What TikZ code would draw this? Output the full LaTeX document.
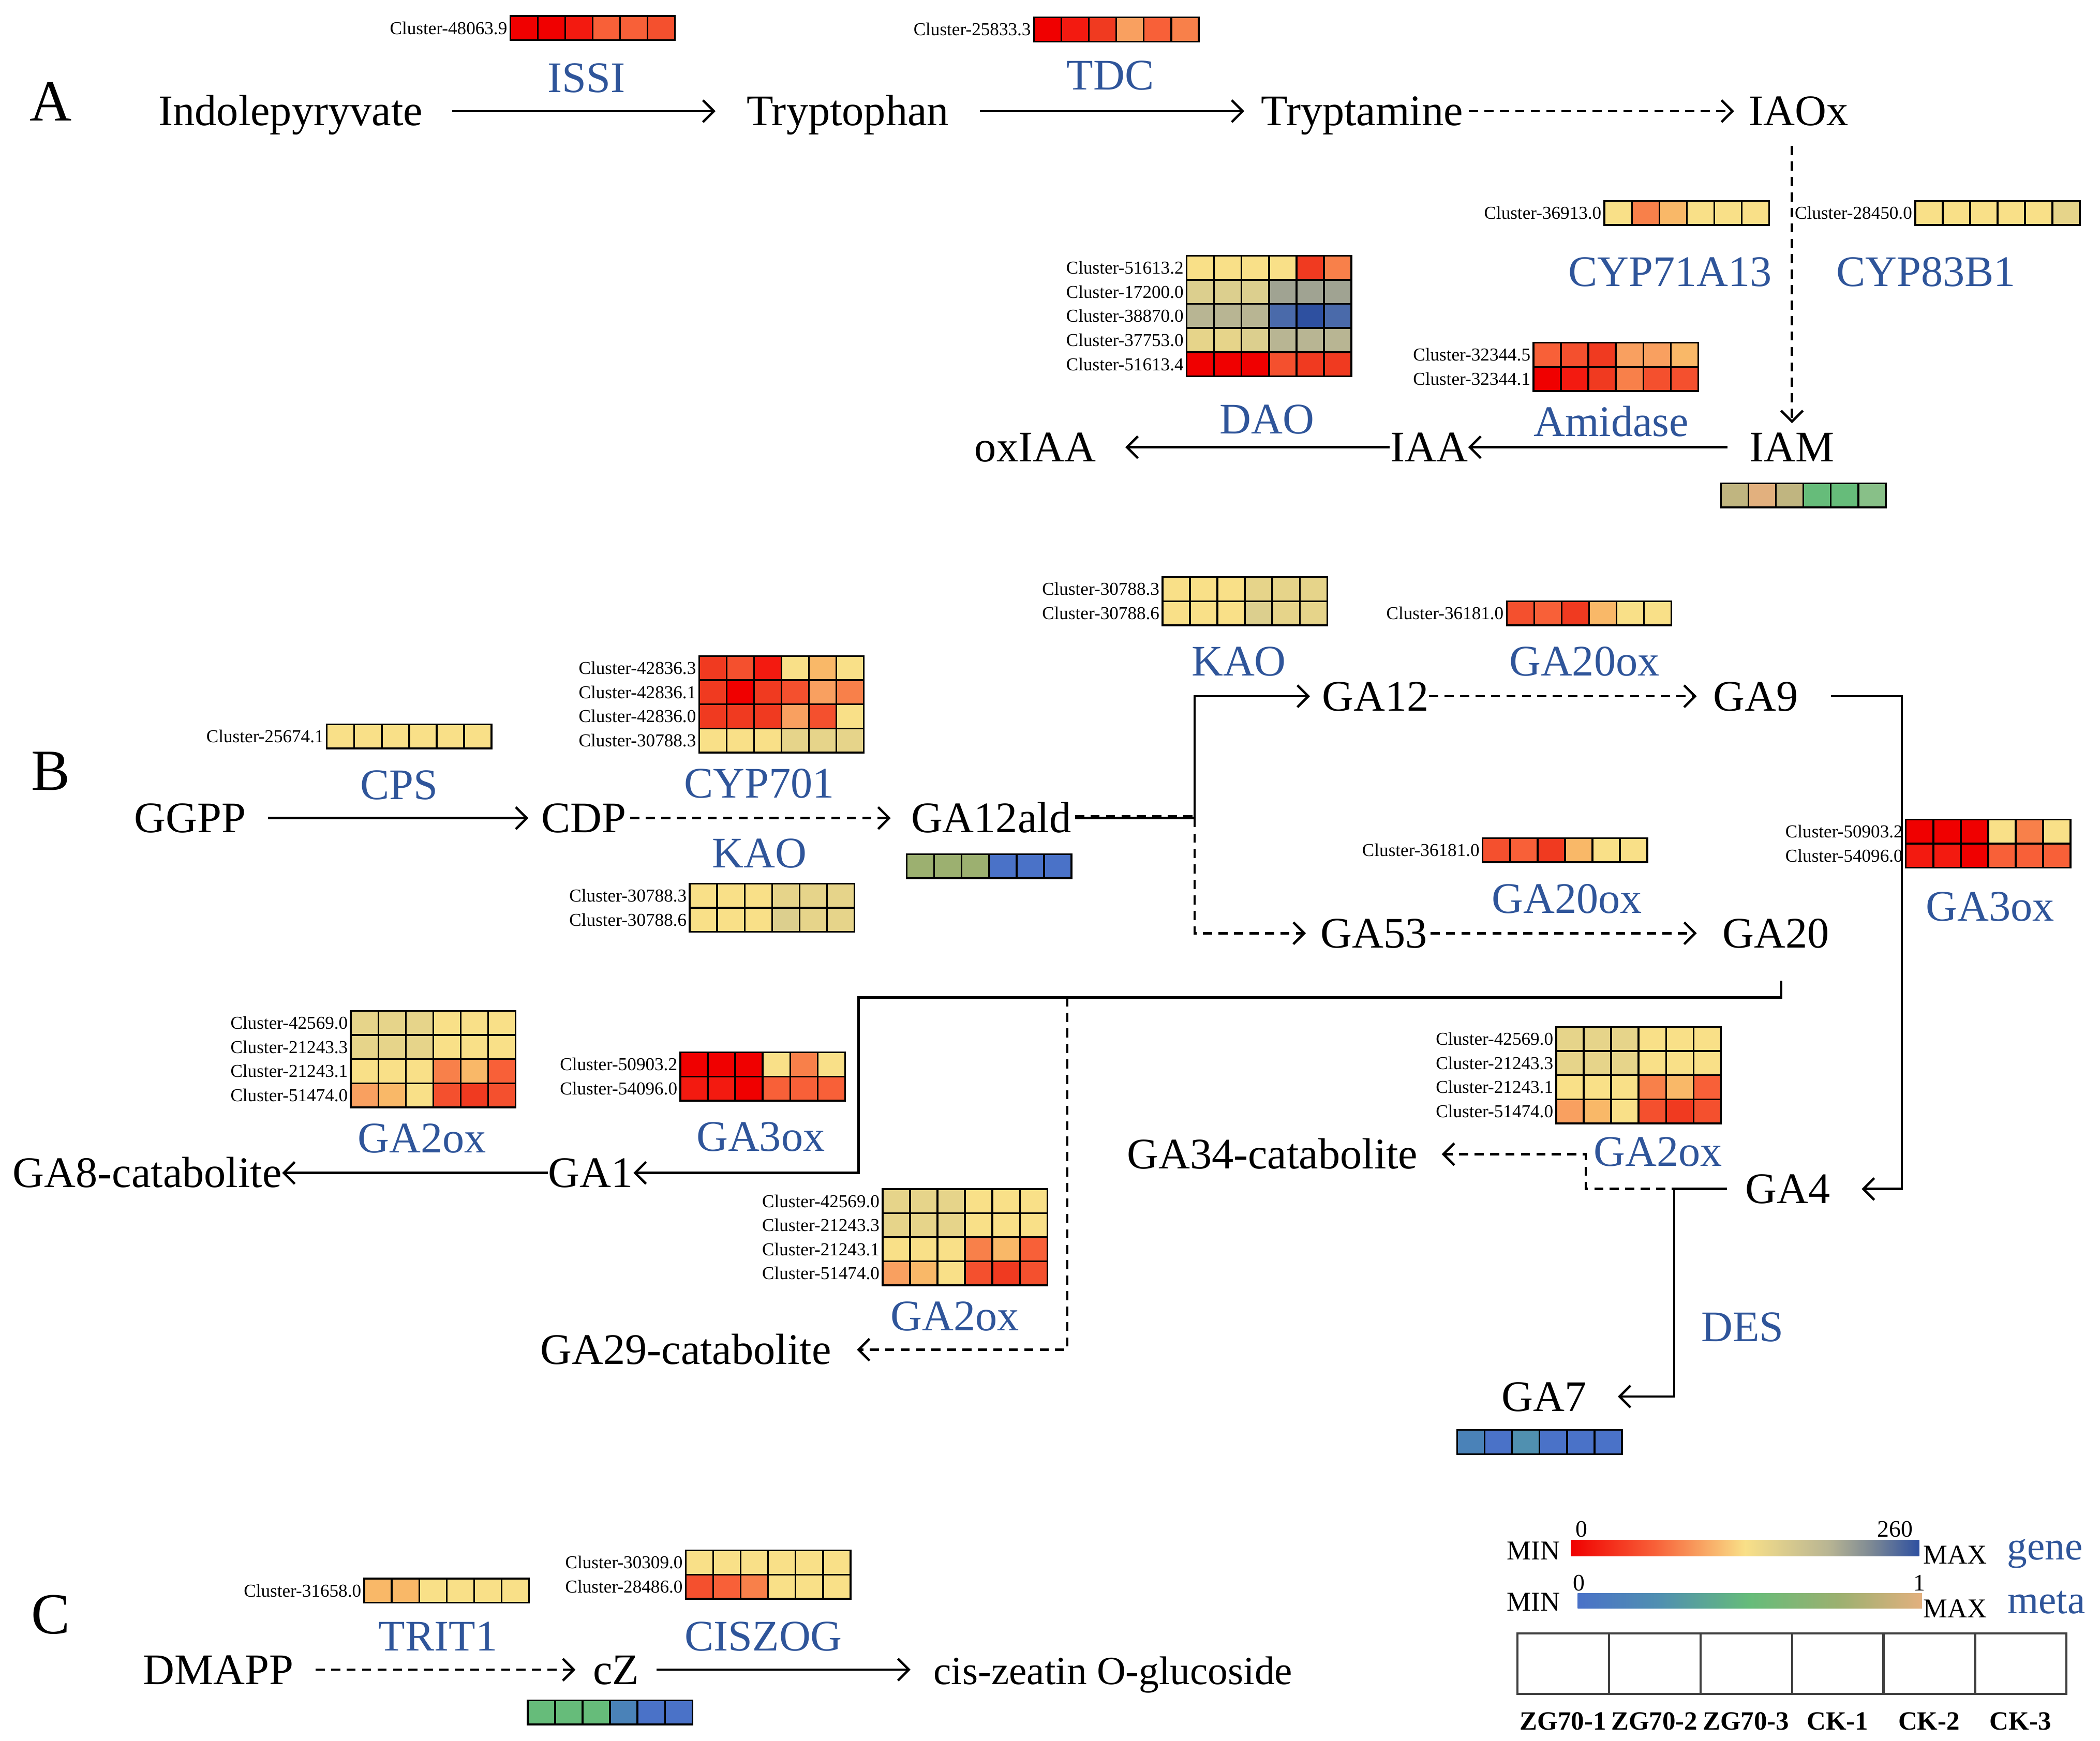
\documentclass[tikz,border=0pt]{standalone}
\usepackage{fontspec}
\setmainfont{Liberation Serif}
\usetikzlibrary{arrows.meta}

% heat map colours
\definecolor{enzblue}{HTML}{2F559A}
\definecolor{r0}{HTML}{F00000}
\definecolor{r1}{HTML}{F31A10}
\definecolor{r2}{HTML}{F03A20}
\definecolor{r3}{HTML}{F4502E}
\definecolor{o1}{HTML}{F86038}
\definecolor{o2}{HTML}{F8804A}
\definecolor{o3}{HTML}{F9A060}
\definecolor{o4}{HTML}{F9B868}
\definecolor{y1}{HTML}{F9E088}
\definecolor{y2}{HTML}{E6D48A}
\definecolor{y3}{HTML}{DCCF8E}
\definecolor{k1}{HTML}{B8B593}
\definecolor{g1}{HTML}{A0A392}
\definecolor{g2}{HTML}{7E8A94}
\definecolor{b1}{HTML}{4A6AAA}
\definecolor{b2}{HTML}{2E50A0}
\definecolor{m1}{HTML}{C0B580}
\definecolor{m2}{HTML}{E2B07E}
\definecolor{m3}{HTML}{66BC7A}
\definecolor{m4}{HTML}{9CB070}
\definecolor{m5}{HTML}{4A72C8}
\definecolor{m6}{HTML}{4A82B8}
\definecolor{m7}{HTML}{5090B0}
\definecolor{m8}{HTML}{88C088}

% the middle half (25bp to 75bp) of a shading is what fills the path
\pgfdeclarehorizontalshading{geneshade}{100bp}{color(0bp)=(r0); color(25bp)=(r0); color(37bp)=(o1); color(50bp)=(y1); color(62bp)=(k1); color(68bp)=(g2); color(75bp)=(b2); color(100bp)=(b2)}
\pgfdeclarehorizontalshading{metashade}{100bp}{color(0bp)=(m5); color(25bp)=(m5); color(37bp)=(m7); color(50bp)=(m3); color(63bp)=(m4); color(75bp)=(m2); color(100bp)=(m2)}

\tikzset{
  cell/.style={draw=black, line width=1pt},
  clus/.style={font=\fontsize{10}{12}\selectfont, inner sep=1.5pt},
  metab/.style={font=\fontsize{24}{28}\selectfont, inner sep=0pt, text height=18pt, text depth=2pt},
  enz/.style={font=\fontsize{24}{28}\selectfont, text=enzblue, inner sep=0pt, text height=16pt, text depth=0pt},
  sect/.style={font=\fontsize{32}{36}\selectfont, inner sep=0pt, text height=21pt, text depth=0pt},
  legtxt/.style={inner sep=0pt, anchor=base},
  legcell/.style={draw=black!75, line width=1.2pt},
  link/.style={line width=1.3pt},
  dlink/.style={link, dash pattern=on 5pt off 3.5pt},
  conv/.style={link, -{Straight Barb[length=6pt,width=12pt,line width=1.3pt]}},
  dconv/.style={conv, dash pattern=on 5pt off 3.5pt}
}

\newcommand{\cellw}{20.5}
\newcommand{\cellh}{18}
% one row of a heat map, cluster name on its left
\newcommand{\hmrow}[5]{%
  \foreach \col [count=\k from 0] in {#5}
    \draw[cell, fill=\col] ({#2+\k*\cellw},#3) rectangle ++(\cellw,\cellh);
  \draw (#2,{#3+\cellh/2}) node[clus, anchor=east] (#1) {#4};
}
% a metabolite bar, no name
\newcommand{\hmbar}[3]{%
  \foreach \col [count=\k from 0] in {#3}
    \draw[cell, fill=\col] ({#1+\k*\cellw},#2) rectangle ++(\cellw,\cellh);
}

\begin{document}
\begin{tikzpicture}[x=0.2589mm, y=-0.2589mm]
\useasboundingbox (0,0) rectangle (1568,1300);

% Section letters
\draw (38,76) node[sect] (secA) {A};
\draw (38,576) node[sect] (secB) {B};
\draw (38,1206) node[sect] (secC) {C};

%%% A
\draw (217,83) node[metab] (indole) {Indolepyryvate};
\draw (633,83) node[metab] (trp) {Tryptophan};
\draw (1017,83) node[metab] (tam) {Tryptamine};
\draw (1343,83) node[metab] (iaox) {IAOx};
\draw (1338,334) node[metab] (iam) {IAM};
\draw (1067,334) node[metab] (iaa) {IAA};
\draw (773,334) node[metab] (oxiaa) {oxIAA};

\draw (438,58) node[enz] (issi) {ISSI};
\draw (829,56) node[enz] (tdc) {TDC};
\draw (1247,203) node[enz] (cyp71) {CYP71A13};
\draw (1438,203) node[enz] (cyp83) {CYP83B1};
\draw (1203,315) node[enz] (amid) {Amidase};
\draw (946,313) node[enz] (dao) {DAO};

% heat maps of A
\hmrow{issi-r1}{381}{12}{Cluster-48063.9}{r0,r0,r1,o1,o1,r3}
\hmrow{tdc-r1}{772}{13}{Cluster-25833.3}{r0,r1,r2,o3,o1,o2}
\hmrow{cyp71-r1}{1198}{150}{Cluster-36913.0}{y1,o2,o4,y1,y1,y1}
\hmrow{cyp83-r1}{1430}{150}{Cluster-28450.0}{y1,y1,y1,y1,y1,y2}
\hmrow{dao-r1}{886}{191}{Cluster-51613.2}{y1,y1,y1,y1,r2,o2}
\hmrow{dao-r2}{886}{209}{Cluster-17200.0}{y3,y3,y3,g1,g1,g1}
\hmrow{dao-r3}{886}{227}{Cluster-38870.0}{k1,k1,k1,b1,b2,b1}
\hmrow{dao-r4}{886}{245}{Cluster-37753.0}{y2,y2,y3,k1,k1,k1}
\hmrow{dao-r5}{886}{263}{Cluster-51613.4}{r0,r0,r0,r3,r2,r2}
\hmrow{amid-r1}{1145}{256}{Cluster-32344.5}{o1,r3,r2,o3,o3,o4}
\hmrow{amid-r2}{1145}{274}{Cluster-32344.1}{r0,r1,r2,o2,r3,r3}
\hmbar{1285}{361}{m1,m2,m1,m3,m3,m8}

% reactions of A
\draw[conv, shorten <=16pt, shorten >=17pt] (indole.east) -- (trp.west);
\draw[conv, shorten <=17pt, shorten >=9pt] (trp.east) -- (tam.west);
\draw[dconv, shorten <=3pt, shorten >=8pt] (tam.east) -- (iaox.west);
\draw[dconv, shorten <=9pt, shorten >=3pt] (iam.north |- iaox.south) -- (iam.north);
\draw[conv, shorten <=12pt] (iam.west) -- (iaa.east);
\draw[conv, shorten >=16pt] (iaa.west) -- (oxiaa.east);

%%% B
\draw (142,611) node[metab] (ggpp) {GGPP};
\draw (436,611) node[metab] (cdp) {CDP};
\draw (740,611) node[metab] (ga12ald) {GA12ald};
\draw (1027,520) node[metab] (ga12) {GA12};
\draw (1311,520) node[metab] (ga9) {GA9};
\draw (1026,697) node[metab] (ga53) {GA53};
\draw (1326,697) node[metab] (ga20) {GA20};
\draw (441,876) node[metab] (ga1) {GA1};
\draw (110,876) node[metab] (ga8) {GA8-catabolite};
\draw (512,1008) node[metab] (ga29) {GA29-catabolite};
\draw (1335,888) node[metab] (ga4) {GA4};
\draw (950,862) node[metab] (ga34) {GA34-catabolite};
\draw (1153,1043) node[metab] (ga7) {GA7};

\draw (298,586) node[enz] (cps) {CPS};
\draw (567,585) node[enz] (cyp701) {CYP701};
\draw (567,637) node[enz] (kao-a) {KAO};
\draw (925,494) node[enz] (kao-b) {KAO};
\draw (1183,494) node[enz] (ga20ox-a) {GA20ox};
\draw (1170,671) node[enz] (ga20ox-b) {GA20ox};
\draw (1486,677) node[enz] (ga3ox-a) {GA3ox};
\draw (568,849) node[enz] (ga3ox-b) {GA3ox};
\draw (315,850) node[enz] (ga2ox-a) {GA2ox};
\draw (1238,860) node[enz] (ga2ox-b) {GA2ox};
\draw (713,983) node[enz] (ga2ox-c) {GA2ox};
\draw (1301,991) node[enz] (des) {DES};

% heat maps of B
\hmrow{cps-r1}{244}{541}{Cluster-25674.1}{y1,y1,y1,y1,y1,y1}
\hmrow{cyp701-r1}{522}{490}{Cluster-42836.3}{r2,r3,r1,y1,o4,y1}
\hmrow{cyp701-r2}{522}{508}{Cluster-42836.1}{r2,r0,r2,r3,o3,o2}
\hmrow{cyp701-r3}{522}{526}{Cluster-42836.0}{r2,r2,r2,o3,r3,y1}
\hmrow{cyp701-r4}{522}{544}{Cluster-30788.3}{y1,y1,y1,y2,y2,y2}
\hmrow{kao-a-r1}{515}{660}{Cluster-30788.3}{y1,y1,y1,y2,y2,y2}
\hmrow{kao-a-r2}{515}{678}{Cluster-30788.6}{y1,y1,y1,y3,y2,y2}
\hmbar{677}{638}{m4,m4,m4,m5,m5,m5}
\hmrow{kao-b-r1}{868}{431}{Cluster-30788.3}{y1,y1,y1,y2,y2,y2}
\hmrow{kao-b-r2}{868}{449}{Cluster-30788.6}{y1,y1,y1,y3,y2,y2}
\hmrow{ga20ox-a-r1}{1125}{449}{Cluster-36181.0}{r3,o1,r2,o4,y1,y1}
\hmrow{ga20ox-b-r1}{1107}{626}{Cluster-36181.0}{r3,o1,r2,o4,y1,y1}
\hmrow{ga3ox-a-r1}{1423}{612}{Cluster-50903.2}{r0,r0,r0,y1,o2,y1}
\hmrow{ga3ox-a-r2}{1423}{630}{Cluster-54096.0}{r1,r1,r0,o1,o1,o1}
\hmrow{ga3ox-b-r1}{508}{786}{Cluster-50903.2}{r0,r0,r0,y1,o2,y1}
\hmrow{ga3ox-b-r2}{508}{804}{Cluster-54096.0}{r1,r1,r0,o1,o1,o1}
% the three GA2ox maps are the same
\foreach \nm/\x/\y in {ga2ox-a/262/755, ga2ox-b/1162/767, ga2ox-c/659/888}
{
  \hmrow{\nm-r1}{\x}{\y}{Cluster-42569.0}{y2,y2,y2,y1,y1,y1}
  \hmrow{\nm-r2}{\x}{\y+18}{Cluster-21243.3}{y2,y2,y2,y1,y1,y1}
  \hmrow{\nm-r3}{\x}{\y+36}{Cluster-21243.1}{y1,y1,y1,o2,o4,o1}
  \hmrow{\nm-r4}{\x}{\y+54}{Cluster-51474.0}{o3,o4,y1,r3,r2,r3}
}
\hmbar{1088}{1068}{m6,m5,m7,m5,m5,m5}

% reactions of B
\draw[conv, shorten <=12pt, shorten >=7pt] (ggpp.east) -- (cdp.west);
\draw[dconv, shorten <=2pt, shorten >=11pt] (cdp.east) -- (ga12ald.west);
\coordinate (jct) at (892,611);
\draw[link, shorten <=2pt] (ga12ald.east) -- (jct);
\draw[dlink, shorten <=2pt] ([yshift=1pt]ga12ald.east) -- ([yshift=1pt]jct);
\draw[conv, shorten >=6.5pt] (jct) |- (ga12.west);
\draw[dconv, shorten >=8pt] (jct) |- (ga53.west);
\draw[dconv, shorten >=9pt] (ga12.east) -- (ga9.west);
\draw[dconv, shorten <=1.5pt, shorten >=14pt] (ga53.east) -- (ga20.west);
\coordinate (c9) at (1420,888);
\draw[conv, shorten <=17.7pt, shorten >=17pt] (ga9.east) -| (c9) -- (ga4.east);
\coordinate (c20) at (1330,745);
\coordinate (c1) at (641,745);
\draw[conv, shorten <=16pt] (ga20.south -| c20) |- (c1) |- (ga1.east);
\coordinate (c2) at (797,745);
\draw[dconv, shorten >=14pt] (c2) |- (ga29.east);
\draw[conv] (ga1.west) -- (ga8.east);
\coordinate (c4) at (1250,888);
\draw[conv, shorten <=10pt, shorten >=17pt] (ga4.west) -- (c4) |- (ga7.east);
\coordinate (c34) at (1184,888);
\draw[dconv, shorten <=10pt, shorten >=13pt] (ga4.west) -- (c34) |- (ga34.east);

%%% C
\draw (163,1247) node[metab] (dmapp) {DMAPP};
\draw (460,1247) node[metab] (cz) {cZ};
\draw (831,1247) node[metab, font=\fontsize{22}{26}\selectfont] (czog) {cis-zeatin O-glucoside};
\draw (327,1222) node[enz] (trit) {TRIT1};
\draw (570,1222) node[enz] (ciszog) {CISZOG};

\hmrow{trit-r1}{272}{1179}{Cluster-31658.0}{o4,o4,y1,y1,y1,y1}
\hmrow{ciszog-r1}{512}{1158}{Cluster-30309.0}{y1,y1,y1,y1,y1,y1}
\hmrow{ciszog-r2}{512}{1176}{Cluster-28486.0}{r3,o1,o2,y1,y1,y1}
\hmbar{394}{1270}{m3,m3,m3,m6,m5,m5}

\draw[dconv, shorten <=12pt, shorten >=9.5pt] (dmapp.east) -- (cz.west);
\draw[conv, shorten <=9.5pt, shorten >=12.5pt] (cz.east) -- (czog.west);

%%% Legend
\shade[shading=geneshade] (1173,1150) rectangle (1433,1162);
\shade[shading=metashade] (1178,1190) rectangle (1435,1201);
\draw (1145,1165) node[legtxt, font=\fontsize{15}{18}\selectfont] (min-g) {MIN};
\draw (1460,1168) node[legtxt, font=\fontsize{15}{18}\selectfont] (max-g) {MAX};
\draw (1181,1148) node[legtxt, font=\fontsize{13}{16}\selectfont] (lo-g) {0};
\draw (1415,1148) node[legtxt, font=\fontsize{13}{16}\selectfont] (hi-g) {260};
\draw (1527,1165) node[legtxt, font=\fontsize{22}{26}\selectfont, text=enzblue] (gene) {gene};
\draw (1145,1203) node[legtxt, font=\fontsize{15}{18}\selectfont] (min-m) {MIN};
\draw (1460,1208) node[legtxt, font=\fontsize{15}{18}\selectfont] (max-m) {MAX};
\draw (1179,1188) node[legtxt, font=\fontsize{13}{16}\selectfont] (lo-m) {0};
\draw (1433,1188) node[legtxt, font=\fontsize{13}{16}\selectfont] (hi-m) {1};
\draw (1528,1205) node[legtxt, font=\fontsize{22}{26}\selectfont, text=enzblue] (meta) {meta};
% sample boxes
\foreach \s [count=\i from 0] in {ZG70-1,ZG70-2,ZG70-3,CK-1,CK-2,CK-3}
{
  \draw[legcell] ({1133+\i*68.33},1220) rectangle ++(68.33,45);
  \draw ({1167+\i*68.33},1292) node[legtxt, font=\fontsize{14.5}{17}\selectfont\bfseries] (smp\i) {\s};
}

\end{tikzpicture}
\end{document}
